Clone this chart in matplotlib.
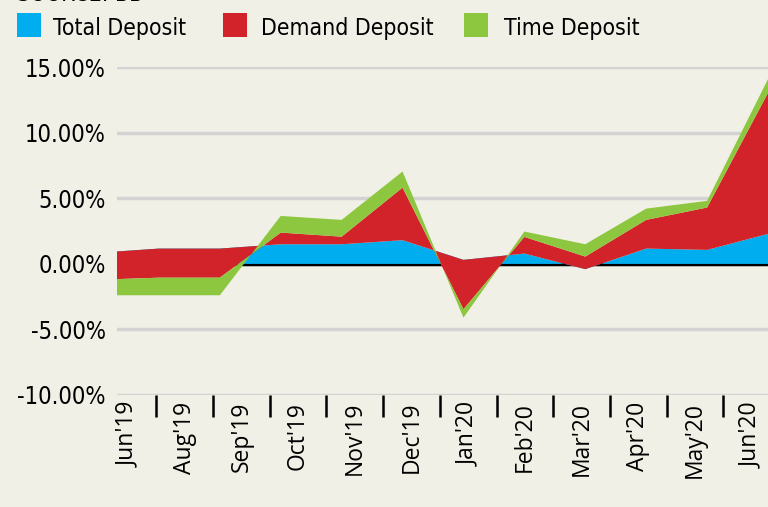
import numpy as np
import matplotlib
matplotlib.use('Agg')
import matplotlib.pyplot as plt
from matplotlib.patches import Rectangle
from matplotlib import font_manager as fm

# monthly growth (%)
months = ["Jun'19", "Aug'19", "Sep'19", "Oct'19", "Nov'19", "Dec'19",
          "Jan'20", "Feb'20", "Mar'20", "Apr'20", "May'20", "Jun'20"]
total_dep = [0.85, 1.17, 1.17, 1.50, 1.50, 1.81, 0.31, 0.79, -0.40, 1.17, 1.07, 2.29]
demand_dep = [-2.06, -2.22, -2.22, 0.89, 0.58, 4.01, -3.77, 1.27, 0.96, 2.19, 3.23, 10.76]
time_dep = [-1.18, -1.34, -1.34, 1.27, 1.28, 1.23, -0.64, 0.41, 0.94, 0.86, 0.51, 1.05]
yticks = [-10, -5, 0, 5, 10, 15]

names = ['Total Deposit', 'Demand Deposit', 'Time Deposit']
colors = ['#00aeef', '#d2232a', '#8dc63f']
bg = '#f1f0e6'
xfont = ['Open Sans', 'DejaVu Sans']

# a narrow face for the y labels and legend, if one is installed
narrow = None
for f in fm.fontManager.ttflist:
    if f.name == 'Liberation Sans Narrow' and f.weight in (400, 'normal', 'regular'):
        narrow = fm.FontProperties(fname=f.fname, size=19.5)
        break
if narrow is None:
    for f in fm.fontManager.ttflist:
        if f.name == 'DejaVu Sans' and f.stretch == 'condensed' and f.weight in (400, 'normal') \
                and f.style == 'normal':
            narrow = fm.FontProperties(fname=f.fname, size=17)
            break
if narrow is None:
    narrow = fm.FontProperties(family='Lato', size=17)
leg_font = narrow.copy()
leg_font.set_size(narrow.get_size() - 0.5)

W, H = 768, 507
fig = plt.figure(figsize=(W/100, H/100), dpi=100, facecolor=bg)
ax = fig.add_axes([117/W, 1-395/H, 651/W, (395-67.3)/H])
ax.set_facecolor(bg)

x = np.arange(len(months))
ax.stackplot(x, total_dep, demand_dep, time_dep, colors=colors, lw=0, zorder=2)
ax.axhline(0, color='black', lw=2.5, zorder=1.5)

ax.set_xlim(0.312, 11.0)
ax.set_ylim(-10, 15)
ax.set_yticks(yticks)
ax.set_yticklabels([f'{v:.2f}%' for v in yticks], fontproperties=narrow)
ax.set_xticks([])
ax.tick_params(axis='y', length=0, pad=8)
ax.set_axisbelow(True)
ax.yaxis.grid(True, color='#d3d3d3', lw=2.5)
for s in ax.spines.values():
    s.set_visible(False)

# category labels sit on their own axis (spacing differs from data points)
ax2 = ax.twiny()
ax2.set_xlim(-0.194, 11.288)
ax2.xaxis.set_ticks_position('bottom')
ax2.set_xticks(np.arange(len(months) - 1) + 0.5)
ax2.set_xticklabels([])
ax2.set_xticks(np.arange(len(months)), minor=True)
ax2.set_xticklabels(months, minor=True, rotation=90, family=xfont, fontsize=16.5)
ax2.tick_params(which='major', length=16, width=1.8, color='black')
ax2.tick_params(which='minor', length=0, pad=5)
for s in ax2.spines.values():
    s.set_visible(False)

# legend
sq_x = [17, 223, 464]
tx_x = [53, 261, 504]
for n, c, sx, tx in zip(names, colors, sq_x, tx_x):
    fig.add_artist(Rectangle((sx/W, 1-37/H), 24/W, 24/H, transform=fig.transFigure,
                             color=c, lw=0))
    fig.text(tx/W, 1-35/H, n, fontproperties=leg_font, va='baseline')

fig.text(17/W, 1-1/H, 'SOURCE: BB', fontproperties=leg_font, va='baseline')

fig.savefig('out.png', dpi=100, facecolor=bg)
